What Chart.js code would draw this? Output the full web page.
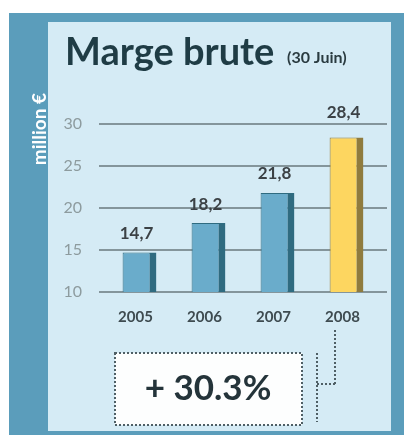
<!DOCTYPE html>
<html>
<head>
<meta charset="utf-8">
<title>Marge brute</title>
<script src="https://cdn.jsdelivr.net/npm/chart.js@4"></script>
<style>
  html, body { margin: 0; padding: 0; background: #ffffff; }
  #wrap { width: 407px; height: 435px; }
</style>
</head>
<body>
<div id="wrap"><canvas id="chart-canvas" width="407" height="435"></canvas></div>
<script>
// data
var years = ["2005", "2006", "2007", "2008"];
var margeBrute = [14.7, 18.2, 21.8, 28.4];
var yTicks = [10, 15, 20, 25, 30];
var titleText = "Marge brute";
var subTitleText = "(30 Juin)";
var unitText = "million €";
var growthText = "+ 30.3%";

var faceColors = ["#6aaccb", "#6aaccb", "#6aaccb", "#fdd660"];
var sideColors = ["#2f6b80", "#2f6b80", "#2f6b80", "#8f7b3e"];
var gridColor = "#84959b";

function fmt(v) { return v.toFixed(1).replace(".", ","); }

// panel, titles, value labels and the growth box
var decor = {
    id: 'decor',
    beforeDraw: function (chart) {
        var ctx = chart.ctx;
        ctx.save();
        ctx.fillStyle = "#5b9dbb";
        ctx.fillRect(9, 13, 395, 422);
        ctx.fillStyle = "#d5ebf5";
        ctx.fillRect(48, 22, 343, 409);
        ctx.restore();
    },
    beforeDatasetsDraw: function (chart) {
        // grid runs a little past the right edge of the plot
        var ctx = chart.ctx;
        var y = chart.scales.y;
        var right = chart.chartArea.right;
        ctx.save();
        ctx.strokeStyle = gridColor;
        ctx.lineWidth = 2;
        y.ticks.forEach(function (t) {
            var py = y.getPixelForValue(t.value);
            ctx.beginPath();
            ctx.moveTo(right, py);
            ctx.lineTo(right + 6, py);
            ctx.stroke();
        });
        ctx.restore();
    },
    afterDatasetsDraw: function (chart) {
        var ctx = chart.ctx;
        var meta = chart.getDatasetMeta(0);
        var top = chart.chartArea.top;
        ctx.save();
        ctx.font = "bold 17px Lato";
        ctx.fillStyle = "#3b4145";
        ctx.textAlign = "center";
        ctx.textBaseline = "middle";
        meta.data.forEach(function (bar, i) {
            var ly = bar.y - 19;
            // keep the label clear of the top grid line
            if (ly < top + 11) ly = Math.min(ly, top - 11);
            ctx.fillText(fmt(margeBrute[i]), bar.x - 3, ly);
        });
        ctx.restore();
    },
    afterDraw: function (chart) {
        var ctx = chart.ctx;
        ctx.save();
        // title
        ctx.fillStyle = "#1f3c45";
        ctx.textBaseline = "alphabetic";
        ctx.font = "bold 38px Lato";
        ctx.fillText(titleText, 65, 65);
        ctx.font = "bold 16px Lato";
        ctx.fillStyle = "#2a3b40";
        ctx.fillText(subTitleText, 287, 63);

        // unit, rotated in the blue strip
        ctx.save();
        ctx.translate(40, 129);
        ctx.rotate(-Math.PI / 2);
        ctx.font = "bold 19px Lato";
        ctx.fillStyle = "#ffffff";
        ctx.textAlign = "center";
        ctx.textBaseline = "middle";
        ctx.fillText(unitText, 0, 0);
        ctx.restore();

        // growth box
        ctx.fillStyle = "#fdfefe";
        ctx.fillRect(115, 353, 187, 72);
        ctx.strokeStyle = "#4f5f65";
        ctx.lineWidth = 2;
        ctx.setLineDash([2, 2]);
        ctx.strokeRect(115, 353, 187, 72);

        // bracket to 2008
        ctx.beginPath();
        ctx.moveTo(317, 353); ctx.lineTo(317, 422);
        ctx.moveTo(317, 384); ctx.lineTo(335, 384);
        ctx.moveTo(335, 384); ctx.lineTo(335, 330);
        ctx.stroke();
        ctx.setLineDash([]);

        ctx.fillStyle = "#24343a";
        ctx.font = "bold 35px Lato";
        ctx.textAlign = "center";
        ctx.textBaseline = "middle";
        ctx.fillText(growthText, 208, 389);
        ctx.restore();
    }
};

var ctx = document.getElementById('chart-canvas').getContext('2d');
var myChart = new Chart(ctx, {
    type: 'bar',
    data: {
        labels: years,
        datasets: [
            {
                label: "Marge brute",
                data: margeBrute,
                backgroundColor: faceColors,
                borderColor: sideColors,
                borderWidth: { left: 1, top: 1, right: 7, bottom: 0 },
                borderSkipped: false,
                barPercentage: 0.49,
                categoryPercentage: 1.0
            }
        ]
    },
    options: {
        responsive: false,
        animation: false,
        layout: { padding: { top: 124, left: 50, right: 26, bottom: 103 } },
        plugins: {
            legend: { display: false },
            tooltip: { enabled: false }
        },
        scales: {
            x: {
                grid: { display: false, drawTicks: false },
                border: { display: false },
                ticks: {
                    padding: 16,
                    labelOffset: -4,
                    color: "#3e4b50",
                    font: { family: "Lato", size: 15, weight: "bold" }
                },
                afterFit: function (scale) { scale.height = 40; }
            },
            y: {
                min: 10,
                max: 30,
                grid: {
                    color: gridColor,
                    lineWidth: 2,
                    drawTicks: true,
                    tickLength: 6,
                    tickColor: gridColor
                },
                border: { display: false },
                ticks: {
                    padding: 17,
                    color: "#8d9b9e",
                    font: { family: "Lato", size: 16 }
                },
                afterBuildTicks: function (scale) {
                    scale.ticks = yTicks.map(function (v) { return { value: v }; });
                },
                afterFit: function (scale) { scale.width = 55; }
            }
        }
    },
    plugins: [decor]
});
</script>
</body>
</html>
